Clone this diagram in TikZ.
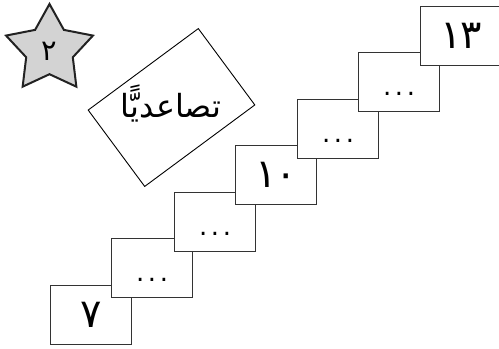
\documentclass[tikz,border=0pt]{standalone}
\usepackage{fontspec}
\usetikzlibrary{calc}
\TeXXeTstate=1
\newfontfamily\arabicfont[Script=Arabic]{DejaVu Sans}
\definecolor{boxline}{HTML}{333333}
\definecolor{starline}{HTML}{222222}
\definecolor{starfill}{HTML}{D3D3D3}
\begin{document}
\begin{tikzpicture}[x=1bp,y=-1bp,
  stepbox/.style={draw=boxline, line width=1.2bp, fill=white, minimum width=81bp, minimum height=58.5bp, inner sep=0, anchor=north west},
  numtext/.style={font=\arabicfont\fontsize{40}{40}\selectfont, inner sep=0},
  dotstext/.style={font=\arabicfont\fontsize{26}{26}\selectfont, inner sep=0, anchor=base},
  startext/.style={font=\arabicfont\fontsize{29}{29}\selectfont, inner sep=0},
  wordtext/.style={font=\arabicfont\fontsize{32}{32}\selectfont, inner sep=0, anchor=base},
  tagbox/.style={draw=black, line width=0.9bp, minimum width=137bp, minimum height=95bp, rotate=36.5, inner sep=0},
  starstyle/.style={draw=starline, line width=2bp, fill=starfill, line join=miter}
]
\clip (0,0) rectangle (499,348);
% star
\coordinate (sc) at (49.5,49.7);
\path[starstyle] (sc) +(270:45.7)
  \foreach \k in {0,...,4}{ -- +(270+72*\k:45.7) -- +(306+72*\k:24.5)} -- cycle;
\node[startext] (starnum) at (49,51) {٢};
% tilted tag
\node[tagbox] (tag) at (171.5,107.5) {};
\node[wordtext] (word) at (171,117) {\beginR تصاعديًّا\endR};
% steps
\node[stepbox] (b1) at (50,285) {};
\node[stepbox] (b2) at (111,238) {};
\node[stepbox] (b3) at (174,192) {};
\node[stepbox] (b4) at (235,145) {};
\node[stepbox] (b5) at (297,99) {};
\node[stepbox] (b6) at (358,52) {};
\node[stepbox] (b7) at (420,6) {};
\newcommand\dotrow{.\kern3.7bp.\kern3.7bp.}
\node[numtext] (t1) at (b1.center) {٧};
\node[dotstext] (t2) at ($(b2.north)+(0,43)$) {\dotrow};
\node[dotstext] (t3) at ($(b3.north)+(0,43)$) {\dotrow};
\node[numtext] (t4) at (b4.center) {١\kern-2bp ٠};
\node[dotstext] (t5) at ($(b5.north)+(0,43)$) {\dotrow};
\node[dotstext] (t6) at ($(b6.north)+(0,43)$) {\dotrow};
\node[numtext] (t7) at (b7.center) {١\kern-2bp ٣};
\end{tikzpicture}
\end{document}
